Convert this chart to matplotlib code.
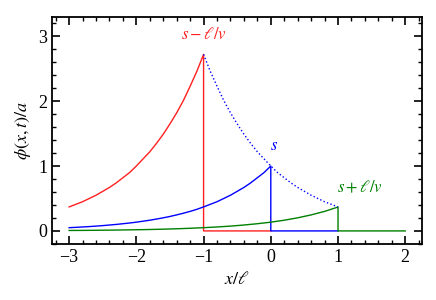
import numpy as np
import matplotlib.pyplot as plt
from matplotlib.ticker import MultipleLocator

plt.rcParams['font.family'] = 'Liberation Serif'
plt.rcParams['mathtext.fontset'] = 'stix'

x_red = np.round(np.arange(-3, -0.95, 0.1), 2)
y_red = [0.37, 0.41, 0.45, 0.50, 0.55, 0.61, 0.67, 0.74, 0.82, 0.90, 1.00,
         1.11, 1.22, 1.35, 1.49, 1.65, 1.82, 2.01, 2.23, 2.46, 2.72]

x_blue = np.round(np.arange(-3, 0.05, 0.1), 2)
y_blue = [0.050, 0.055, 0.061, 0.067, 0.074, 0.082, 0.091, 0.100, 0.111, 0.122,
          0.135, 0.150, 0.165, 0.183, 0.202, 0.223, 0.247, 0.273, 0.301, 0.333,
          0.37, 0.41, 0.45, 0.50, 0.55, 0.61, 0.67, 0.74, 0.82, 0.90, 1.00]

x_green = np.round(np.arange(-3, 1.05, 0.2), 2)
y_green = [0.007, 0.008, 0.010, 0.012, 0.015, 0.018, 0.022, 0.027, 0.033, 0.041,
           0.050, 0.061, 0.074, 0.091, 0.111, 0.135, 0.165, 0.202, 0.247, 0.301,
           0.368]

x_env = np.round(np.arange(-1, 1.05, 0.1), 2)
y_env = [2.72, 2.46, 2.23, 2.01, 1.82, 1.65, 1.49, 1.35, 1.22, 1.11, 1.00,
         0.90, 0.82, 0.74, 0.67, 0.61, 0.55, 0.50, 0.45, 0.41, 0.37]

# each front drops to zero and stays flat up to the next unit
x_drop = [-1, 0, 1]
x_end = [0, 1, 2]

fig = plt.figure(figsize=(4.36, 3.0), dpi=100)
ax = fig.add_axes([0.12, 0.187, 0.848, 0.757])

red, blue, green = '#ff2020', '#0000ff', '#008000'
for xs, ys, c, xd, xe in [(x_red, y_red, red, x_drop[0], x_end[0]),
                          (x_blue, y_blue, blue, x_drop[1], x_end[1]),
                          (x_green, y_green, green, x_drop[2], x_end[2])]:
    ax.plot(list(xs) + [xd, xe], list(ys) + [0, 0], color=c, lw=1)
ax.plot(x_env, y_env, color=blue, lw=1, ls=':')

ax.text(-1, 2.9, r'$s-\ell/v$', color=red, ha='center', va='bottom', fontsize=12)
ax.text(0.05, 1.18, r'$s$', color=blue, ha='center', va='bottom', fontsize=12)
ax.text(1.32, 0.54, r'$s+\ell/v$', color=green, ha='center', va='bottom', fontsize=12)

ax.set_xlim(-3.25, 2.25)
ax.set_ylim(-0.2, 3.3)
ax.xaxis.set_major_locator(MultipleLocator(1))
ax.xaxis.set_minor_locator(MultipleLocator(0.2))
ax.yaxis.set_major_locator(MultipleLocator(1))
ax.yaxis.set_minor_locator(MultipleLocator(0.2))
ax.tick_params(which='both', direction='in', top=True, right=True, labelsize=13)
ax.tick_params(which='major', length=6, width=1.2)
ax.tick_params(which='minor', length=3, width=1)
for s in ax.spines.values():
    s.set_linewidth(1.3)

ax.set_xlabel(r'$x/\ell$', fontsize=13)
ax.set_ylabel(r'$\phi(x,t)/a$', fontsize=13)

fig.savefig('out.png', dpi=100)
